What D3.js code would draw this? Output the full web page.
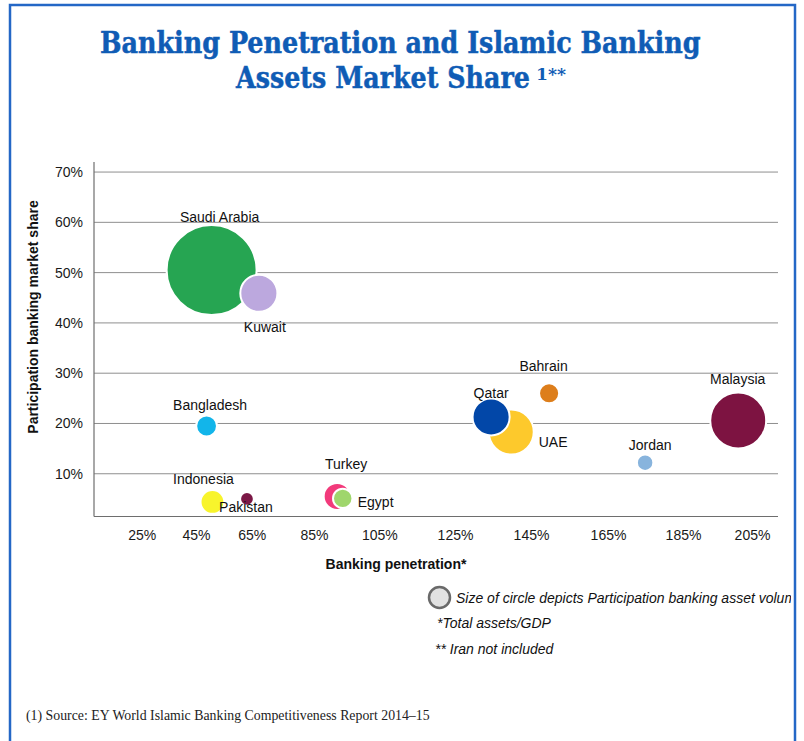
<!DOCTYPE html>
<html>
<head>
<meta charset="utf-8">
<script src="https://cdn.jsdelivr.net/npm/d3@7"></script>
<style>
  html, body { margin: 0; padding: 0; background: #ffffff; }
  svg { display: block; }
</style>
</head>
<body>
<div id="chart"></div>
<script>
// Participation (Islamic) banking by country
const countries   = ["Saudi Arabia", "Kuwait", "Bangladesh", "Indonesia", "Pakistan", "Turkey", "Egypt", "UAE", "Qatar", "Bahrain", "Jordan", "Malaysia"];
const penetration = [0.506, 0.673, 0.488, 0.509, 0.633, 0.921, 0.938, 1.398, 1.345, 1.497, 1.749, 2.010]; // total assets / GDP
const marketShare = [0.505, 0.459, 0.195, 0.044, 0.050, 0.055, 0.051, 0.183, 0.213, 0.260, 0.122, 0.206];
const assetVolume = [300, 51, 16, 21, 7, 27, 14, 75, 51, 15, 10, 116]; // USD bn, sets bubble area
const colors      = ["#26a552", "#bca8de", "#12b5ea", "#f8f42c", "#7b1846", "#f23a7b", "#9fd66c", "#fdc92c", "#0247a8", "#dd7e1b", "#88b4dd", "#7d1341"];

const xTicks = [0.25, 0.45, 0.65, 0.85, 1.05, 1.25, 1.45, 1.65, 1.85, 2.05];
const yTicks = [0.1, 0.2, 0.3, 0.4, 0.5, 0.6, 0.7];

const W = 804, H = 741;
const svg = d3.select("#chart").append("svg")
  .attr("width", W).attr("height", H);

// page frame
svg.append("rect")
  .attr("x", 10).attr("y", 5).attr("width", 785).attr("height", 780)
  .attr("fill", "none").attr("stroke", "#2467c6").attr("stroke-width", 2.5);

// draws a text line squeezed horizontally to a given width
function fittedText(parent, str, x, y, width, styles) {
  const g = parent.append("g");
  const t = g.append("text").attr("x", 0).attr("y", 0).text(str);
  Object.entries(styles).forEach(([k, v]) => t.attr(k, v));
  const natural = t.node().getComputedTextLength();
  g.attr("transform", `translate(${x},${y}) scale(${width / natural},1)`);
  return t;
}

// title
const titleColor = "#0f5cb5";
const titleStyle = {
  "font-family": "'DejaVu Serif', 'Liberation Serif', serif",
  "font-weight": "bold", "font-size": 29,
  "fill": titleColor, "stroke": titleColor, "stroke-width": 0.5
};
fittedText(svg, "Banking Penetration and Islamic Banking", 100, 53, 601, titleStyle);
fittedText(svg, "Assets Market Share", 236, 88, 294, titleStyle);
fittedText(svg, "1**", 536, 80, 30, {
  "font-family": "'DejaVu Serif', 'Liberation Serif', serif",
  "font-weight": "bold", "font-size": 16, "fill": titleColor
});

// scales
const x = d3.scaleLinear()
  .domain(xTicks)
  .range([141.7, 196, 251.7, 314, 379.3, 455, 531, 608, 683, 752]);
const y = d3.scaleLinear().domain([0.015, 0.72]).range([516.5, 162]);
const r = d3.scaleSqrt().domain([0, 300]).range([0, 45]);

const plotLeft = 94, plotRight = 778;
const sans = "'Liberation Sans', Arial, sans-serif";

// horizontal gridlines
svg.append("g")
  .selectAll("line")
  .data(yTicks)
  .join("line")
  .attr("x1", plotLeft).attr("x2", plotRight)
  .attr("y1", d => y(d)).attr("y2", d => y(d))
  .attr("stroke", "#8e8e8e").attr("stroke-width", 1);

// axis lines
svg.append("line")
  .attr("x1", plotLeft).attr("x2", plotLeft)
  .attr("y1", y.range()[1]).attr("y2", y.range()[0])
  .attr("stroke", "#6e6e6e").attr("stroke-width", 1.2);
svg.append("line")
  .attr("x1", plotLeft).attr("x2", plotRight)
  .attr("y1", y.range()[0]).attr("y2", y.range()[0])
  .attr("stroke", "#6e6e6e").attr("stroke-width", 1.2);

// y axis labels
const yAxis = svg.append("g")
  .attr("transform", `translate(${plotLeft},0)`)
  .call(d3.axisLeft(y).tickValues(yTicks).tickFormat(d3.format(".0%")).tickSize(0).tickPadding(11));
yAxis.select(".domain").remove();
yAxis.selectAll("text")
  .attr("font-family", sans).attr("font-size", 14).attr("fill", "#1a1a1a");

// x axis labels
const xAxis = svg.append("g")
  .attr("transform", `translate(0,${y.range()[0]})`)
  .call(d3.axisBottom(x).tickValues(xTicks).tickFormat(d3.format(".0%")).tickSize(0).tickPadding(14));
xAxis.select(".domain").remove();
xAxis.selectAll("text")
  .attr("font-family", sans).attr("font-size", 14).attr("fill", "#1a1a1a");

// axis titles
svg.append("text")
  .attr("transform", "translate(38,317) rotate(-90)")
  .attr("text-anchor", "middle")
  .attr("font-family", sans).attr("font-weight", "bold").attr("font-size", 14)
  .attr("fill", "#111")
  .text("Participation banking market share");
svg.append("text")
  .attr("x", 396).attr("y", 569)
  .attr("text-anchor", "middle")
  .attr("font-family", sans).attr("font-weight", "bold").attr("font-size", 14)
  .attr("fill", "#111")
  .text("Banking penetration*");

// bubbles
const rows = countries.map((c, i) => ({
  name: c, px: penetration[i], share: marketShare[i], assets: assetVolume[i], color: colors[i]
}));

svg.append("g")
  .selectAll("circle")
  .data(rows)
  .join("circle")
  .attr("cx", d => x(d.px))
  .attr("cy", d => y(d.share))
  .attr("r", d => r(d.assets))
  .attr("fill", d => d.color)
  .attr("stroke", "#ffffff")
  .attr("stroke-width", 2);

// label placement relative to each bubble centre
const labelPlacement = {
  "Saudi Arabia": { dx: 8,    dy: -48,  anchor: "middle" },
  "Kuwait":       { dx: 6,    dy: 38.5, anchor: "middle" },
  "Bangladesh":   { dx: 3.5,  dy: -16,  anchor: "middle" },
  "Indonesia":    { dx: -9,   dy: -18,  anchor: "middle" },
  "Pakistan":     { dx: -1,   dy: 13.5, anchor: "middle" },
  "Turkey":       { dx: 9,    dy: -27.5, anchor: "middle" },
  "Egypt":        { dx: 15,   dy: 8.5,  anchor: "start" },
  "UAE":          { dx: 27.5, dy: 14.5, anchor: "start" },
  "Qatar":        { dx: 0,    dy: -18.5, anchor: "middle" },
  "Bahrain":      { dx: -5.5, dy: -22.5, anchor: "middle" },
  "Jordan":       { dx: 5,    dy: -13,  anchor: "middle" },
  "Malaysia":     { dx: -0.5, dy: -36,  anchor: "middle" }
};

svg.append("g")
  .selectAll("text")
  .data(rows)
  .join("text")
  .attr("x", d => x(d.px) + labelPlacement[d.name].dx)
  .attr("y", d => y(d.share) + labelPlacement[d.name].dy)
  .attr("text-anchor", d => labelPlacement[d.name].anchor)
  .attr("font-family", sans).attr("font-size", 14)
  .attr("fill", "#111")
  .text(d => d.name);

// notes
svg.append("clipPath").attr("id", "frameClip")
  .append("rect").attr("x", 0).attr("y", 0).attr("width", 791).attr("height", H);

const notes = svg.append("g").attr("clip-path", "url(#frameClip)");
notes.append("circle")
  .attr("cx", 439.5).attr("cy", 597.5).attr("r", 10.5)
  .attr("fill", "#e2e2e2").attr("stroke", "#6a6a6a").attr("stroke-width", 2.5);
notes.append("text")
  .attr("x", 456).attr("y", 602.5)
  .attr("font-family", sans).attr("font-style", "italic").attr("font-size", 14)
  .attr("fill", "#111")
  .text("Size of circle depicts Participation banking asset volume");
notes.append("text")
  .attr("x", 437).attr("y", 627.5)
  .attr("font-family", sans).attr("font-style", "italic").attr("font-size", 14)
  .attr("fill", "#111")
  .text("*Total assets/GDP");
notes.append("text")
  .attr("x", 435).attr("y", 654)
  .attr("font-family", sans).attr("font-style", "italic").attr("font-size", 14)
  .attr("fill", "#111")
  .text("** Iran not included");

// source line
fittedText(svg, "(1) Source: EY World Islamic Banking Competitiveness Report 2014\u201315", 26, 720, 404, {
  "font-family": "'Liberation Serif', 'DejaVu Serif', serif",
  "font-size": 14, "fill": "#222"
});
</script>
</body>
</html>
